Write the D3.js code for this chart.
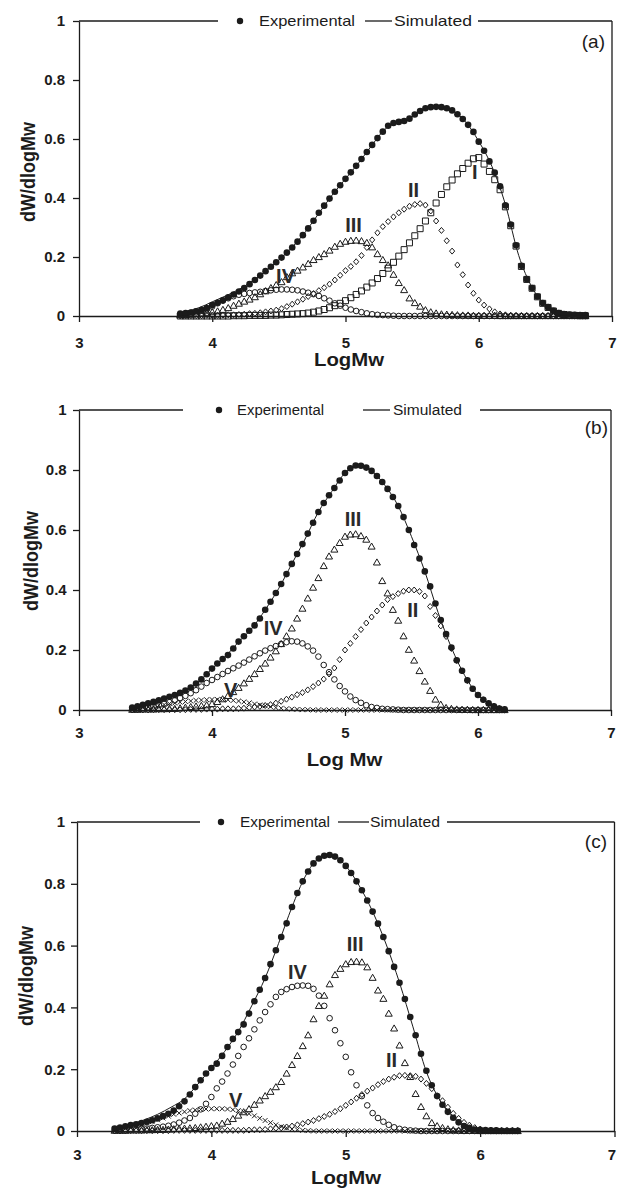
<!DOCTYPE html>
<html><head><meta charset="utf-8">
<script src="https://cdn.jsdelivr.net/npm/d3@7"></script>
<style>body{margin:0;background:#fff}svg{display:block}</style>
</head><body>
<svg id="chart" width="617" height="1193"></svg>
<script>
// ---------- shared ----------
const xTicks = [3, 4, 5, 6, 7];
const yTicks = [0, 0.2, 0.4, 0.6, 0.8, 1];
const yTickLabels = ["0", "0.2", "0.4", "0.6", "0.8", "1"];
const legendLabels = ["Experimental", "Simulated"];

// ---------- panel (a) ----------
const xA = [3.76,3.8,3.84,3.88,3.92,3.96,4,4.04,4.08,4.12,4.16,4.2,4.24,4.28,4.32,4.36,4.4,4.44,4.48,4.52,4.56,4.6,4.64,4.68,4.72,4.76,4.8,4.84,4.88,4.92,4.96,5,5.04,5.08,5.12,5.16,5.2,5.24,5.28,5.32,5.36,5.4,5.44,5.48,5.52,5.56,5.6,5.64,5.68,5.72,5.76,5.8,5.84,5.88,5.92,5.96,6,6.04,6.08,6.12,6.16,6.2,6.24,6.28,6.32,6.36,6.4,6.44,6.48,6.52,6.56,6.6,6.64,6.68,6.72,6.76,6.8];
const expA = [.008,.010,.012,.016,.021,.027,.037,.045,.053,.063,.073,.083,.095,.108,.122,.137,.152,.167,.182,.198,.215,.232,.252,.274,.297,.323,.350,.374,.398,.421,.443,.465,.487,.509,.532,.556,.580,.603,.625,.645,.654,.658,.661,.669,.683,.695,.704,.708,.709,.708,.704,.697,.684,.668,.648,.624,.591,.560,.524,.486,.440,.375,.310,.240,.170,.125,.095,.066,.044,.030,.018,.010,.007,.005,.004,.003,.003];
const simXA = [3.76,3.8,3.9,4,4.1,4.2,4.3,4.4,4.5,4.6,4.7,4.8,4.9,5,5.1,5.2,5.3,5.4,5.5,5.6,5.7,5.8,5.9,6,6.1,6.2,6.3,6.4,6.5,6.6,6.7,6.8];
const simA = [.012,.016,.028,.048,.068,.090,.118,.152,.190,.233,.286,.348,.410,.465,.520,.580,.635,.657,.675,.703,.709,.697,.659,.592,.506,.378,.205,.097,.037,.010,.004,.003];
const compIA = [0,0,0,0,0,0,0,0,0,0,.001,.001,.001,.002,.002,.002,.002,.003,.003,.004,.005,.006,.007,.008,.010,.013,.017,.022,.028,.035,.043,.052,.062,.073,.085,.098,.112,.127,.144,.162,.182,.203,.225,.248,.272,.296,.322,.350,.383,.412,.438,.461,.482,.500,.518,.533,.537,.515,.490,.462,.428,.370,.306,.237,.168,.124,.094,.065,.043,.029,.017,.009,.005,.003,.002,.001,.001];
const compIIA = [0,0,.001,.001,.001,.002,.002,.002,.003,.004,.004,.005,.006,.008,.009,.011,.014,.017,.020,.025,.032,.040,.048,.057,.066,.076,.086,.096,.108,.122,.138,.154,.168,.184,.205,.232,.258,.282,.303,.320,.336,.350,.362,.372,.378,.381,.376,.356,.322,.290,.255,.220,.173,.140,.105,.077,.054,.037,.024,.014,.007,.004,.002,.001,0,0,0,0,0,0,0,0,0,0,0,0,0];
const compIIIA = [.003,.004,.005,.007,.009,.011,.013,.016,.021,.027,.035,.042,.049,.056,.064,.074,.084,.095,.105,.115,.132,.145,.154,.165,.177,.190,.200,.210,.222,.235,.245,.252,.255,.256,.254,.248,.233,.210,.190,.172,.140,.112,.088,.060,.044,.032,.020,.013,.009,.006,.005,.004,.003,.002,.002,.001,.001,.001,.001,.001,0,0,0,0,0,0,0,0,0,0,0,0,0,0,0,0,0];
const compIVA = [.005,.007,.009,.012,.018,.023,.032,.043,.052,.060,.067,.072,.075,.078,.080,.082,.085,.087,.089,.090,.090,.089,.087,.083,.079,.074,.068,.060,.052,.043,.035,.028,.022,.017,.013,.009,.006,.004,.003,.002,.001,0,0,0,0,0,0,0,0,0,0,0,0,0,0,0,0,0,0,0,0,0,0,0,0,0,0,0,0,0,0,0,0,0,0,0,0];
const labelsA = [{t:"I",x:5.97,y:0.488},{t:"II",x:5.51,y:0.427},{t:"III",x:5.06,y:0.308},{t:"IV",x:4.55,y:0.136}];

// ---------- panel (b) ----------
const xB = [3.4,3.44,3.48,3.52,3.56,3.6,3.64,3.68,3.72,3.76,3.8,3.84,3.88,3.92,3.96,4,4.04,4.08,4.12,4.16,4.2,4.24,4.28,4.32,4.36,4.4,4.44,4.48,4.52,4.56,4.6,4.64,4.68,4.72,4.76,4.8,4.84,4.88,4.92,4.96,5,5.04,5.08,5.12,5.16,5.2,5.24,5.28,5.32,5.36,5.4,5.44,5.48,5.52,5.56,5.6,5.64,5.68,5.72,5.76,5.8,5.84,5.88,5.92,5.96,6,6.04,6.08,6.12,6.16,6.2];
const expB = [.008,.012,.017,.022,.027,.032,.038,.044,.050,.057,.065,.075,.088,.102,.119,.138,.155,.170,.183,.205,.228,.246,.264,.282,.305,.334,.361,.390,.420,.453,.487,.520,.553,.588,.624,.660,.690,.716,.740,.765,.790,.806,.815,.814,.808,.797,.780,.760,.737,.710,.680,.643,.600,.550,.505,.462,.412,.355,.300,.253,.208,.166,.131,.099,.071,.050,.034,.022,.012,.005,.002];
const simXB = [3.4,3.5,3.6,3.7,3.8,3.9,4,4.1,4.2,4.3,4.4,4.5,4.6,4.7,4.8,4.9,5,5.1,5.2,5.3,5.4,5.5,5.6,5.7,5.8,5.9,6,6.1,6.2];
const simB = [.009,.020,.032,.047,.065,.095,.137,.178,.227,.272,.334,.404,.487,.570,.660,.728,.790,.815,.797,.749,.680,.578,.462,.325,.208,.115,.050,.017,.002];
const compIIB = [0,0,0,0,.001,.001,.001,.001,.001,.001,.001,.002,.002,.002,.003,.003,.003,.004,.004,.004,.005,.006,.008,.010,.012,.015,.018,.023,.029,.036,.043,.051,.058,.067,.078,.090,.103,.120,.140,.168,.200,.222,.245,.268,.290,.310,.330,.350,.368,.378,.388,.396,.400,.400,.395,.380,.345,.315,.280,.245,.205,.165,.130,.098,.070,.050,.034,.022,.012,.005,.002];
const compIIIB = [.001,.001,.002,.002,.002,.003,.003,.004,.004,.006,.008,.010,.012,.014,.016,.020,.027,.036,.047,.060,.074,.089,.104,.120,.137,.155,.175,.196,.220,.246,.272,.305,.338,.372,.408,.440,.480,.512,.535,.557,.578,.585,.586,.580,.568,.545,.492,.430,.389,.334,.298,.246,.201,.165,.130,.095,.064,.035,.018,.007,.004,.002,.001,.001,0,0,0,0,0,0,0];
const compIVB = [.002,.004,.006,.009,.012,.016,.021,.026,.032,.040,.047,.056,.066,.078,.090,.100,.110,.120,.130,.139,.148,.158,.168,.179,.189,.198,.206,.213,.220,.226,.229,.228,.222,.212,.198,.178,.150,.126,.102,.080,.062,.045,.033,.024,.016,.010,.007,.004,.003,.002,.001,0,0,0,0,0,0,0,0,0,0,0,0,0,0,0,0,0,0,0,0];
const compVB = [.003,.005,.008,.010,.013,.016,.018,.021,.023,.026,.028,.030,.032,.033,.034,.035,.035,.035,.034,.032,.030,.027,.024,.020,.017,.014,.011,.008,.006,.004,.003,.002,.001,.001,0,0,0,0,0,0,0,0,0,0,0,0,0,0,0,0,0,0,0,0,0,0,0,0,0,0,0,0,0,0,0,0,0,0,0,0,0];
const labelsB = [{t:"II",x:5.51,y:0.333},{t:"III",x:5.06,y:0.637},{t:"IV",x:4.46,y:0.273},{t:"V",x:4.14,y:0.067}];

// ---------- panel (c) ----------
const xC = [3.28,3.32,3.36,3.4,3.44,3.48,3.52,3.56,3.6,3.64,3.68,3.72,3.76,3.8,3.84,3.88,3.92,3.96,4,4.04,4.08,4.12,4.16,4.2,4.24,4.28,4.32,4.36,4.4,4.44,4.48,4.52,4.56,4.6,4.64,4.68,4.72,4.76,4.8,4.84,4.88,4.92,4.96,5,5.04,5.08,5.12,5.16,5.2,5.24,5.28,5.32,5.36,5.4,5.44,5.48,5.52,5.56,5.6,5.64,5.68,5.72,5.76,5.8,5.84,5.88,5.92,5.96,6,6.04,6.08,6.12,6.16,6.2,6.24,6.28];
const expC = [.008,.011,.015,.019,.022,.026,.030,.035,.041,.048,.056,.066,.080,.096,.118,.142,.164,.186,.204,.218,.243,.272,.298,.320,.345,.380,.420,.457,.495,.540,.585,.628,.672,.725,.770,.808,.840,.866,.882,.891,.893,.888,.876,.858,.835,.808,.779,.746,.710,.671,.628,.582,.531,.480,.427,.369,.310,.250,.195,.148,.113,.085,.062,.043,.028,.016,.010,.005,.004,.003,.002,.002,.001,.001,.001,.001];
const simXC = [3.28,3.4,3.5,3.6,3.7,3.8,3.9,4,4.1,4.2,4.3,4.4,4.5,4.6,4.7,4.8,4.9,5,5.1,5.2,5.3,5.4,5.5,5.6,5.7,5.8,5.9,6,6.1,6.2,6.28];
const simC = [.010,.022,.036,.054,.077,.104,.152,.204,.258,.322,.405,.495,.607,.725,.825,.882,.892,.858,.794,.710,.605,.480,.337,.192,.100,.043,.014,.004,.002,.001,.001];
const compIIC = [0,0,0,.001,.001,.001,.001,.001,.001,.001,.001,.002,.002,.002,.002,.002,.002,.002,.002,.002,.002,.002,.002,.002,.002,.003,.004,.004,.005,.007,.009,.010,.013,.016,.020,.024,.029,.034,.040,.047,.054,.063,.072,.083,.094,.106,.118,.129,.139,.150,.160,.168,.174,.179,.180,.179,.177,.168,.154,.137,.114,.098,.077,.057,.041,.028,.019,.011,.006,.003,.002,.001,0,0,0,0];
const compIIIC = [.001,.001,.001,.002,.002,.002,.003,.003,.004,.004,.005,.006,.007,.008,.009,.010,.012,.014,.016,.018,.024,.030,.039,.050,.061,.071,.085,.099,.113,.127,.142,.159,.186,.214,.243,.275,.310,.362,.405,.438,.475,.505,.525,.540,.547,.548,.546,.530,.496,.455,.428,.380,.332,.277,.220,.175,.120,.078,.048,.026,.016,.010,.006,.003,.002,.001,.001,.001,0,0,0,0,0,0,0,0];
const compIVC = [.002,.003,.004,.005,.006,.007,.008,.010,.012,.014,.017,.021,.027,.034,.042,.056,.070,.088,.110,.138,.160,.186,.215,.243,.272,.300,.329,.358,.385,.410,.434,.450,.459,.466,.470,.471,.470,.460,.438,.405,.365,.326,.284,.240,.190,.148,.113,.083,.058,.042,.030,.020,.012,.007,.004,.002,.001,0,0,0,0,0,0,0,0,0,0,0,0,0,0,0,0,0,0,0];
const compVC = [.004,.006,.008,.012,.016,.020,.025,.030,.036,.042,.048,.054,.058,.062,.066,.068,.070,.071,.072,.072,.072,.071,.069,.066,.062,.056,.049,.041,.034,.027,.020,.014,.010,.006,.004,.002,.001,0,0,0,0,0,0,0,0,0,0,0,0,0,0,0,0,0,0,0,0,0,0,0,0,0,0,0,0,0,0,0,0,0,0,0,0,0,0,0];
const labelsC = [{t:"II",x:5.34,y:0.23},{t:"III",x:5.07,y:0.605},{t:"IV",x:4.64,y:0.515},{t:"V",x:4.18,y:0.10}];

// ---------- layout (positions / styles only) ----------
const panels = [
  {l:79, r:612, t:21, b:316, x:xA, exp:expA, simX:simXA, sim:simA,
   comps:[["I",compIA],["II",compIIA],["III",compIIIA],["IV",compIVA]], labels:labelsA,
   letter:"(a)", letterX:605, letterY:48, xTitle:"LogMw", xTitleX:349, xTitleY:366,
   yTitleX:35, yTitleY:172, xPad:15.3, yPad:8, lastDx:0,
   seg1:218, dotX:240, expTx:259, expW:96, ln1:365, ln2:392, simTx:394, simW:78, seg2:478, lgFont:15},
  {l:79, r:611, t:410, b:710, x:xB, exp:expB, simX:simXB, sim:simB,
   comps:[["II",compIIB],["III",compIIIB],["IV",compIVB],["V",compVB]], labels:labelsB,
   letter:"(b)", letterX:608, letterY:433.5, xTitle:"Log Mw", xTitleX:344.5, xTitleY:766,
   yTitleX:38, yTitleY:561, xPad:11.5, yPad:6.3, lastDx:0,
   seg1:183, dotX:219, expTx:237, expW:87, ln1:363, ln2:390, simTx:393, simW:69, seg2:480, lgFont:14},
  {l:77, r:614.5, t:822, b:1131, x:xC, exp:expC, simX:simXC, sim:simC,
   comps:[["II",compIIC],["III",compIIIC],["IV",compIVC],["V",compVC]], labels:labelsC,
   letter:"(c)", letterX:607, letterY:848, xTitle:"LogMw", xTitleX:346, xTitleY:1184,
   yTitleX:33, yTitleY:976, xPad:12.4, yPad:6, lastDx:-3,
   seg1:200, dotX:221, expTx:240, expW:90, ln1:338, ln2:369, simTx:370, simW:70, seg2:447, lgFont:14}
];

const ink = "#1b1b1b";
const FONT = "'Liberation Sans', Arial, Helvetica, sans-serif";
const markerPaths = {
  I: "M-3,-3H3V3H-3Z",
  II: "M0,-3L2.6,0L0,3L-2.6,0Z",
  III: "M0,-3.5L3.5,2.6H-3.5Z",
  V: "M-2.4,-2.4L2.4,2.4M-2.4,2.4L2.4,-2.4"
};

const svg = d3.select("#chart");

panels.forEach(p => {
  const g = svg.append("g");
  const x = d3.scaleLinear().domain([3, 7]).range([p.l, p.r]);
  const y = d3.scaleLinear().domain([0, 1]).range([p.b, p.t]);

  // components (open markers)
  p.comps.forEach(([name, vals]) => {
    const pts = p.x.map((xv, i) => [xv, vals[i]]);
    if (name === "IV") {
      g.append("g").selectAll("circle").data(pts).join("circle")
        .attr("cx", d => x(d[0])).attr("cy", d => y(d[1])).attr("r", 2.8)
        .attr("fill", "none").attr("stroke", ink).attr("stroke-width", 1);
    } else {
      g.append("g").selectAll("path").data(pts).join("path")
        .attr("transform", d => `translate(${x(d[0])},${y(d[1])})`)
        .attr("d", markerPaths[name])
        .attr("fill", "none").attr("stroke", ink).attr("stroke-width", 1);
    }
  });

  // experimental points
  g.append("g").selectAll("circle").data(p.x.map((xv, i) => [xv, p.exp[i]])).join("circle")
    .attr("cx", d => x(d[0])).attr("cy", d => y(d[1])).attr("r", 3.3).attr("fill", ink);

  // simulated line
  const line = d3.line().x(d => x(d[0])).y(d => y(d[1])).curve(d3.curveMonotoneX);
  g.append("path").datum(p.simX.map((xv, i) => [xv, p.sim[i]]))
    .attr("d", line).attr("fill", "none").attr("stroke", ink).attr("stroke-width", 1);

  // axes
  const xAxis = d3.axisBottom(x).tickValues(xTicks).tickFormat(d3.format("d"))
    .tickSize(6).tickSizeOuter(0).tickPadding(p.xPad);
  const gx = g.append("g").attr("transform", `translate(0,${p.b})`).call(xAxis);
  gx.selectAll(".tick text").filter(d => d === 7).attr("dx", p.lastDx);
  const yAxis = d3.axisLeft(y).tickValues(yTicks).tickFormat((d, i) => yTickLabels[i])
    .tickSize(6).tickSizeOuter(0).tickPadding(p.yPad);
  const gy = g.append("g").attr("transform", `translate(${p.l},0)`).call(yAxis);
  [gx, gy].forEach(a => {
    a.select(".domain").attr("stroke", ink).attr("stroke-width", 1.3);
    a.selectAll(".tick line").attr("stroke", ink).attr("stroke-width", 1.3);
    a.selectAll(".tick text").attr("fill", ink)
      .style("font-family", FONT).style("font-weight", "bold").style("font-size", "15px");
  });

  // frame: right side and top (broken by legend)
  const frame = g.append("g").attr("stroke", ink).attr("stroke-width", 1.3);
  frame.append("line").attr("x1", p.r).attr("x2", p.r).attr("y1", p.t).attr("y2", p.b);
  frame.append("line").attr("x1", p.l).attr("x2", p.seg1).attr("y1", p.t).attr("y2", p.t);
  frame.append("line").attr("x1", p.seg2).attr("x2", p.r).attr("y1", p.t).attr("y2", p.t);

  // legend
  g.append("circle").attr("cx", p.dotX).attr("cy", p.t).attr("r", 3.2).attr("fill", ink);
  g.append("text").attr("x", p.expTx).attr("y", p.t + 5).text(legendLabels[0])
    .attr("textLength", p.expW).attr("lengthAdjust", "spacingAndGlyphs")
    .style("font-family", FONT).style("font-size", p.lgFont + "px").attr("fill", ink);
  g.append("line").attr("x1", p.ln1).attr("x2", p.ln2).attr("y1", p.t).attr("y2", p.t)
    .attr("stroke", ink).attr("stroke-width", 1.3);
  g.append("text").attr("x", p.simTx).attr("y", p.t + 5).text(legendLabels[1])
    .attr("textLength", p.simW).attr("lengthAdjust", "spacingAndGlyphs")
    .style("font-family", FONT).style("font-size", p.lgFont + "px").attr("fill", ink);

  // panel letter
  g.append("text").attr("x", p.letterX).attr("y", p.letterY).attr("text-anchor", "end")
    .text(p.letter).style("font-family", FONT).style("font-size", "19px").attr("fill", ink);

  // component labels
  g.append("g").selectAll("text").data(p.labels).join("text")
    .attr("x", d => x(d.x)).attr("y", d => y(d.y)).attr("dy", "0.36em")
    .attr("text-anchor", "middle").text(d => d.t)
    .style("font-family", FONT).style("font-weight", "bold").style("font-size", "20px")
    .attr("fill", "#2a2a2a");

  // axis titles
  g.append("text").attr("transform", `translate(${p.xTitleX},${p.xTitleY}) scale(1.1,1)`)
    .attr("text-anchor", "middle").text(p.xTitle)
    .style("font-family", FONT).style("font-weight", "bold").style("font-size", "18.5px").attr("fill", ink);
  g.append("text").attr("transform", `translate(${p.yTitleX},${p.yTitleY}) scale(1.15,1) rotate(-90)`)
    .attr("text-anchor", "middle").text("dW/dlogMw")
    .style("font-family", FONT).style("font-weight", "bold").style("font-size", "18px").attr("fill", ink);
});
</script>
</body></html>
